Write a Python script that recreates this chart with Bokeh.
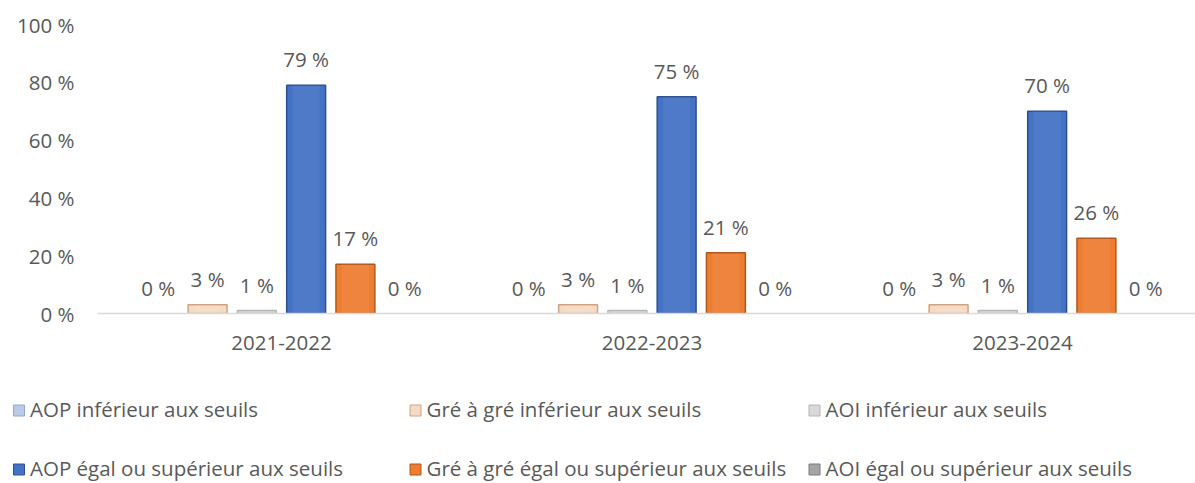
from bokeh.plotting import figure
from bokeh.layouts import column
from bokeh.models import Range1d, FixedTicker, ColumnDataSource
from bokeh.core.properties import value
from bokeh.embed import file_html
from bokeh.resources import INLINE

# ---------------- data ----------------
categories = ["2021-2022", "2022-2023", "2023-2024"]
series_names = [
    "AOP inférieur aux seuils",
    "Gré à gré inférieur aux seuils",
    "AOI inférieur aux seuils",
    "AOP égal ou supérieur aux seuils",
    "Gré à gré égal ou supérieur aux seuils",
    "AOI égal ou supérieur aux seuils",
]
aop_inf = [0, 0, 0]
gre_inf = [3, 3, 3]
aoi_inf = [1, 1, 1]
aop_sup = [79, 75, 70]
gre_sup = [17, 21, 26]
aoi_sup = [0, 0, 0]
series_values = [aop_inf, gre_inf, aoi_inf, aop_sup, gre_sup, aoi_sup]
y_ticks = [0, 20, 40, 60, 80, 100]
y_tick_labels = ["0 %", "20 %", "40 %", "60 %", "80 %", "100 %"]

fill_colors = ["#B9C9E6", "#F6DAC4", "#D9D9D9", "#4472C4", "#ED7D31", "#A5A5A5"]
line_colors = ["#8FA8D6", "#CFA283", "#B5B5B5", "#2E5090", "#B0561A", "#7A7A7A"]

FONT = "Open Sans"
TXT = "#595959"
FS = "20.5px"

# ---------------- main chart ----------------
group_px = 370.5
frame_w = 1098
x_start = -184 / group_px
x_end = x_start + frame_w / group_px
step = 0.133
bar_w = 0.105

p = figure(width=1195, height=370, output_backend="svg", toolbar_location=None,
           x_range=Range1d(x_start, x_end), y_range=Range1d(0, 100),
           min_border_left=97, min_border_right=0, min_border_top=24,
           min_border_bottom=57)
p.outline_line_color = None
p.xgrid.visible = False
p.ygrid.visible = False
p.background_fill_color = "white"
p.border_fill_color = "white"

n = len(series_values)
for i, (name, vals) in enumerate(zip(series_names, series_values)):
    off = (i - (n - 1) / 2) * step
    xs = [k + off for k in range(len(categories))]
    src = ColumnDataSource(dict(x=xs, top=vals, lab=[f"{v} %" for v in vals]))
    p.vbar(x="x", top="top", width=bar_w, source=src,
           fill_color=fill_colors[i], line_color=line_colors[i], line_width=1.5,
           line_alpha=1 if max(vals) > 0 else 0)
    # subtle bevel highlight
    p.vbar(x="x", top="top", width=bar_w * 0.7, source=src,
           fill_color="white", fill_alpha=0.06, line_color=None)
    p.text(x="x", y="top", text="lab", source=src, y_offset=-26,
           text_align="center", text_baseline="middle",
           text_font=value(FONT), text_font_size=FS, text_color=TXT)

p.xaxis.ticker = FixedTicker(ticks=list(range(len(categories))))
p.xaxis.major_label_overrides = {k: c for k, c in enumerate(categories)}
p.xaxis.axis_line_color = "#D9D9D9"
p.xaxis.axis_line_width = 1.5
p.xaxis.major_tick_line_color = None
p.xaxis.minor_tick_line_color = None
p.xaxis.major_label_standoff = 16
p.xaxis.major_label_text_font = FONT
p.xaxis.major_label_text_font_size = FS
p.xaxis.major_label_text_color = TXT

p.yaxis.ticker = FixedTicker(ticks=y_ticks)
p.yaxis.major_label_overrides = {t: l for t, l in zip(y_ticks, y_tick_labels)}
p.yaxis.axis_line_color = None
p.yaxis.major_tick_line_color = None
p.yaxis.minor_tick_line_color = None
p.yaxis.major_label_standoff = 17
p.yaxis.major_label_text_font = FONT
p.yaxis.major_label_text_font_size = FS
p.yaxis.major_label_text_color = TXT

# ---------------- legend ----------------
leg_h = 113
lg = figure(width=1195, height=leg_h, output_backend="svg", toolbar_location=None,
            x_range=Range1d(0, 1195), y_range=Range1d(leg_h, 0),
            x_axis_location=None, y_axis_location=None,
            min_border=0, min_border_left=0, min_border_right=0,
            min_border_top=0, min_border_bottom=0)
lg.xgrid.visible = False
lg.ygrid.visible = False
lg.outline_line_color = None

# do not align the legend frame with the chart frame
for fig in (p, lg):
    try:
        fig.frame_align = False
    except Exception:
        pass

col_x = [18.5, 415, 814]
row_y = [38, 97]
mx, my, tx, ty, labs = [], [], [], [], []
for i, name in enumerate(series_names):
    r, c = divmod(i, 3)
    mx.append(col_x[c])
    my.append(row_y[r] + 2)
    tx.append(col_x[c] + 11)
    ty.append(row_y[r])
    labs.append(name)
lsrc = ColumnDataSource(dict(mx=mx, my=my, tx=tx, ty=ty, lab=labs,
                             fc=fill_colors, lc=line_colors))
lg.rect(x="mx", y="my", width=11, height=11, width_units="screen",
        height_units="screen", fill_color="fc", line_color="lc", source=lsrc)
lg.text(x="tx", y="ty", text="lab", source=lsrc, text_align="left",
        text_baseline="middle", text_font=value(FONT), text_font_size=FS,
        text_color=TXT)

layout = column(p, lg, spacing=0)
open("out.html", "w").write(file_html(layout, INLINE))
